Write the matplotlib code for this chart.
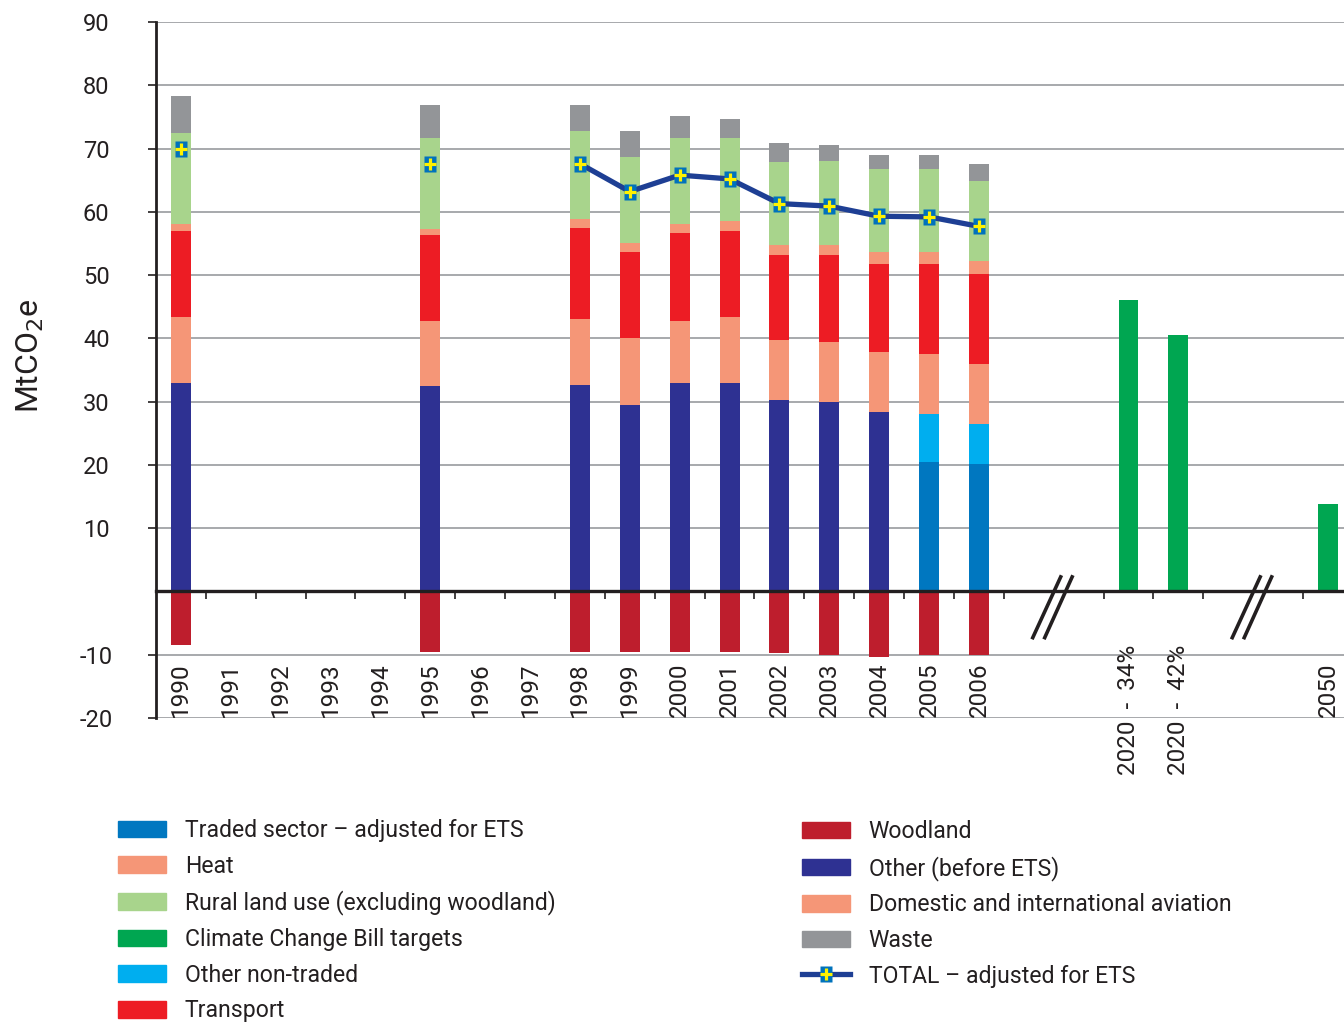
import numpy as np
import matplotlib
matplotlib.use("Agg")
import matplotlib.pyplot as plt
from matplotlib.patches import Patch
from matplotlib.lines import Line2D
from matplotlib.legend_handler import HandlerTuple

plt.rcParams['font.family'] = ['Roboto', 'DejaVu Sans']

nan = np.nan
years = ['1990', '1991', '1992', '1993', '1994', '1995', '1996', '1997', '1998',
         '1999', '2000', '2001', '2002', '2003', '2004', '2005', '2006']
target_labels = ['2020 - 34%', '2020 - 42%', '2050']

other_before = [33.0, nan, nan, nan, nan, 32.5, nan, nan, 32.7, 29.5, 32.9, 32.9, 30.2, 29.9, 28.3, nan, nan]
traded       = [nan, nan, nan, nan, nan, nan, nan, nan, nan, nan, nan, nan, nan, nan, nan, 20.4, 20.2]
non_traded   = [nan, nan, nan, nan, nan, nan, nan, nan, nan, nan, nan, nan, nan, nan, nan, 7.7, 6.2]
heat         = [10.3, nan, nan, nan, nan, 10.2, nan, nan, 10.3, 10.5, 9.9, 10.4, 9.5, 9.6, 9.6, 9.5, 9.5]
transport    = [13.7, nan, nan, nan, nan, 13.7, nan, nan, 14.5, 13.7, 13.8, 13.7, 13.5, 13.7, 13.9, 14.2, 14.3]
aviation     = [1.0, nan, nan, nan, nan, 0.9, nan, nan, 1.3, 1.3, 1.4, 1.5, 1.6, 1.6, 1.9, 1.9, 2.1]
rural        = [14.5, nan, nan, nan, nan, 14.4, nan, nan, 13.9, 13.7, 13.6, 13.1, 13.1, 13.3, 13.0, 13.0, 12.6]
waste        = [5.8, nan, nan, nan, nan, 5.2, nan, nan, 4.2, 4.0, 3.6, 3.1, 3.0, 2.5, 2.3, 2.3, 2.7]
woodland     = [-8.4, nan, nan, nan, nan, -9.6, nan, nan, -9.6, -9.6, -9.6, -9.6, -9.8, -10.1, -10.3, -10.1, -10.1]
total        = [70.0, nan, nan, nan, nan, 67.5, nan, nan, 67.6, 63.2, 65.8, 65.2, 61.3, 60.9, 59.3, 59.2, 57.7]
targets      = [46.1, 40.6, 13.9]

y_ticks = [-20, -10, 10, 20, 30, 40, 50, 60, 70, 80, 90]

C_OTHER = '#2E3192'
C_TRADED = '#0077C0'
C_NONTRADED = '#00AEEF'
C_HEAT = '#F59677'
C_TRANSPORT = '#ED1C24'
C_AVIATION = '#F59677'
C_RURAL = '#A8D48C'
C_WASTE = '#939598'
C_WOOD = '#BE1E2D'
C_TARGET = '#00A651'
C_TOTAL = '#1E3F94'
C_MARK = '#0072BC'
C_PLUS = '#FFF200'
TXT = '#231F20'

fig = plt.figure(figsize=(13.44, 10.24), dpi=100)
ax = fig.add_axes([156/1344, 1 - 718/1024, 1 - 156/1344, (718 - 22)/1024])

ypos = np.arange(len(years))
tpos = np.array([19, 20, 23])
W = 0.4

# gridlines
for v in y_ticks:
    ax.axhline(v, color='#A7A9AC', lw=1.4, zorder=0)

bottom = np.zeros(len(years))
for series, col in [(other_before, C_OTHER), (traded, C_TRADED), (non_traded, C_NONTRADED),
                    (heat, C_HEAT), (transport, C_TRANSPORT), (aviation, C_AVIATION),
                    (rural, C_RURAL), (waste, C_WASTE)]:
    arr = np.array(series, dtype=float)
    m = ~np.isnan(arr)
    ax.bar(ypos[m], arr[m], bottom=bottom[m], width=W, color=col, linewidth=0, zorder=2)
    bottom = bottom + np.nan_to_num(arr)

wd = np.array(woodland, dtype=float)
m = ~np.isnan(wd)
ax.bar(ypos[m], wd[m], width=W, color=C_WOOD, linewidth=0, zorder=2)

ax.bar(tpos, targets, width=W, color=C_TARGET, linewidth=0, zorder=2)

# total line
rect = [(-0.37, -0.5), (0.37, -0.5), (0.37, 0.5), (-0.37, 0.5), (-0.37, -0.5)]
MS, PMS, PMEW = 11.5, 8.5, 2.3
ax.plot(ypos, total, color=C_TOTAL, lw=3.8, zorder=4, solid_capstyle='butt')
ax.plot(ypos, total, ls='none', marker=rect, ms=MS, mfc=C_MARK, mec='none', zorder=5)
ax.plot(ypos, total, ls='none', marker='+', ms=PMS, mew=PMEW, color=C_PLUS, zorder=6)

# axes setup
ax.set_xlim(-0.5, (1344 - 181) / 49.87)
ax.set_ylim(-20, 90)
for s in ['top', 'right']:
    ax.spines[s].set_visible(False)
ax.spines['left'].set_color(TXT)
ax.spines['left'].set_linewidth(2.0)
ax.spines['bottom'].set_position(('data', 0))
ax.spines['bottom'].set_color(TXT)
ax.spines['bottom'].set_linewidth(2.4)
ax.spines['bottom'].set_zorder(3)

ax.set_yticks(y_ticks)
ax.set_yticklabels([str(v) for v in y_ticks])
ax.tick_params(axis='y', direction='out', length=6, width=1.2, color=TXT,
               labelsize=17, labelcolor=TXT, pad=37)
for lab in ax.get_yticklabels():
    lab.set_horizontalalignment('center')

minor = [p + 0.5 for p in range(0, 23) if p + 0.5 not in (17.5, 21.5)]
ax.set_xticks(minor)
ax.set_xticklabels([])
ax.tick_params(axis='x', direction='out', length=6, width=1.2, color=TXT)

# x labels
for p, lab in zip(ypos, years):
    ax.text(p, -11.2, lab, rotation=90, ha='center', va='top', fontsize=17.5, color=TXT)
for p, lab in zip(tpos, target_labels):
    yy = -11.2 if lab == '2050' else -8.4
    ax.text(p, yy, lab.replace(' - ', '  -  '), rotation=90, ha='center', va='top',
            fontsize=17.5, color=TXT)

# axis breaks
for c in (17.5, 21.5):
    ax.plot([c - 0.42, c + 0.14], [-7.3, 2.3], color=TXT, lw=2.6, zorder=6, clip_on=False)
    ax.plot([c - 0.18, c + 0.37], [-7.3, 2.3], color=TXT, lw=2.6, zorder=6, clip_on=False)

ax.set_ylabel('MtCO$_2$e', fontsize=23, color=TXT)
ax.yaxis.set_label_coords((46 - 156) / 1188, (718 - 356) / 696)

# legends
left_h = [Patch(color=C_TRADED), Patch(color=C_HEAT), Patch(color=C_RURAL),
          Patch(color=C_TARGET), Patch(color=C_NONTRADED), Patch(color=C_TRANSPORT)]
left_l = ['Traded sector \u2013 adjusted for ETS', 'Heat', 'Rural land use (excluding woodland)',
          'Climate Change Bill targets', 'Other non-traded', 'Transport']
tot_line = Line2D([], [], color=C_TOTAL, lw=3.8)
tot_sq = Line2D([], [], ls='none', marker=rect, ms=MS, mfc=C_MARK, mec='none')
tot_plus = Line2D([], [], ls='none', marker='+', ms=PMS, mew=PMEW, color=C_PLUS)
right_h = [Patch(color=C_WOOD), Patch(color=C_OTHER), Patch(color=C_AVIATION),
           Patch(color=C_WASTE), (tot_line, tot_sq, tot_plus)]
right_l = ['Woodland', 'Other (before ETS)', 'Domestic and international aviation', 'Waste',
           'TOTAL \u2013 adjusted for ETS']

FS = 16.6
common = dict(frameon=False, fontsize=FS, handlelength=2.07, handleheight=0.73,
              handletextpad=0.82, borderpad=0, borderaxespad=0,
              loc='upper left', labelcolor=TXT)
fig.legend(left_h, left_l, bbox_to_anchor=(118/1344, 1 - 819/1024), labelspacing=0.55, **common)
fig.legend(right_h, right_l, bbox_to_anchor=(802/1344, 1 - 820/1024), labelspacing=0.55,
           handler_map={tuple: HandlerTuple(ndivide=1)}, **common)

fig.savefig('out.png', dpi=100)
